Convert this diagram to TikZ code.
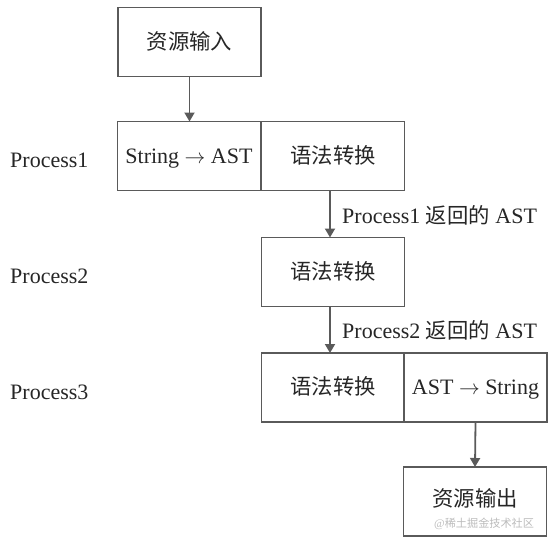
\documentclass[tikz,border=0pt]{standalone}
\usepackage{fontspec}
\setmainfont{Liberation Serif}
\newfontfamily\cjk[Scale=0.97]{Noto Sans CJK SC}
\usetikzlibrary{arrows.meta}
\definecolor{linegray}{HTML}{5A5A5A}
\definecolor{wmgray}{HTML}{BBBBBB}
\begin{document}
\begin{tikzpicture}[x=1pt,y=-1pt,
  box/.style={draw=linegray,line width=1.8pt,minimum width=143pt,minimum height=69pt,inner sep=0pt,outer sep=0pt,text height=14pt,text depth=0pt,font=\fontsize{22}{26}\selectfont,text=black!85},
  lab/.style={inner sep=0pt,text height=14pt,text depth=0pt,font=\fontsize{22}{26}\selectfont,text=black!85},
  conn/.style={draw=linegray,line width=1.8pt,-{Triangle[width=10pt,length=9pt]}}]
\useasboundingbox (0,0) rectangle (554,546);
\node[box] (in) at (189.5,42) {\cjk 资源输入};
\node[box] (a) at (189,156) {String $\rightarrow$ AST};
\node[box] (b) at (333,156) {\cjk 语法转换};
\node[box] (c) at (333,272) {\cjk 语法转换};
\node[box] (d) at (333,387.5) {\cjk 语法转换};
\node[box] (e) at (475.5,387.5) {AST $\rightarrow$ String};
\node[box] (out) at (475,501.5) {};
\node[lab] (outt) at (475,499) {\cjk 资源输出};
\node[lab,anchor=west] (p1) at (10,160) {Process1};
\node[lab,anchor=west] (p2) at (10,276) {Process2};
\node[lab,anchor=west] (p3) at (10,392) {Process3};
\draw[conn] (in.south) -- (a.north -| in.south);
\draw[conn] ([xshift=-3pt]b.south) -- ([xshift=-3pt]c.north);
\draw[conn] ([xshift=-3pt]c.south) -- ([xshift=-3pt]d.north);
\draw[conn] (e.south) -- (out.north);
\node[lab,anchor=west] (l1) at (342,216) {Process1 {\cjk 返回的} AST};
\node[lab,anchor=west] (l2) at (342,331) {Process2 {\cjk 返回的} AST};
\node[inner sep=0pt,anchor=west,text=wmgray,font=\fontsize{11.5}{13}\selectfont] (wm) at (434,524) {@{\cjk 稀土掘金技术社区}};
\end{tikzpicture}
\end{document}
